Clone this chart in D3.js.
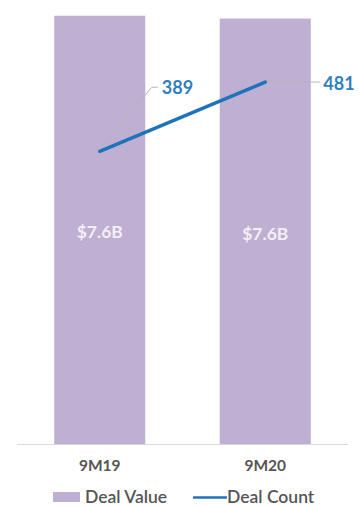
<!DOCTYPE html>
<html>
<head>
<meta charset="utf-8">
<script src="https://cdn.jsdelivr.net/npm/d3@7"></script>
<style>
  html, body { margin: 0; padding: 0; background: #fff; }
  svg { display: block; font-family: Lato, "Open Sans", sans-serif; }
</style>
</head>
<body>
<svg id="chart" width="359" height="506"></svg>
<script>
// Deal value (billions USD) and deal count per period
const categories = ["9M19", "9M20"];
const dealValue = [7.62, 7.57];
const dealCount = [389, 481];
const legendLabels = ["Deal Value", "Deal Count"];

const baseY = 444;
const barColor = "#bfafd2";
const lineColor = "#1f73b9";
const labelBlue = "#2f7fc1";
const textGrey = "#555555";

const svg = d3.select("#chart");

const x = d3.scaleBand()
  .domain(categories)
  .range([17, 348])
  .paddingInner(0.45)
  .paddingOuter(0.225);

const yVal = d3.scaleLinear().domain([0, 7.9]).range([baseY, 0]);
const yCnt = d3.scaleLinear().domain([0, 590]).range([baseY, 0]);

// bars
svg.append("g").selectAll("rect")
  .data(categories)
  .join("rect")
  .attr("x", d => x(d))
  .attr("width", x.bandwidth())
  .attr("y", (d, i) => yVal(dealValue[i]))
  .attr("height", (d, i) => baseY - yVal(dealValue[i]))
  .attr("fill", barColor);

// value labels inside bars
const fmt = d => "$" + d3.format(".1f")(d) + "B";
svg.append("g").selectAll("text")
  .data(categories)
  .join("text")
  .attr("x", d => x(d) + x.bandwidth() / 2)
  .attr("y", (d, i) => (yVal(dealValue[i]) + baseY) / 2 + 8.5)
  .attr("text-anchor", "middle")
  .attr("font-size", 17.5)
  .attr("font-weight", 700)
  .attr("fill", "#f3eff7")
  .text((d, i) => fmt(dealValue[i]));

// baseline axis
svg.append("line")
  .attr("x1", 17).attr("x2", 348)
  .attr("y1", baseY + 0.5).attr("y2", baseY + 0.5)
  .attr("stroke", "#d9d9d9").attr("stroke-width", 1);

const xAxis = d3.axisBottom(x).tickSize(0).tickPadding(0);
const gx = svg.append("g").attr("transform", `translate(0,${baseY})`).call(xAxis);
gx.select(".domain").remove();
gx.selectAll("text")
  .attr("y", 27)
  .attr("dy", 0)
  .attr("font-family", "Lato, sans-serif")
  .attr("font-size", 15.5)
  .attr("font-weight", 700)
  .attr("fill", textGrey);

// count line
const pts = categories.map((c, i) => [x(c) + x.bandwidth() / 2, yCnt(dealCount[i])]);
svg.append("path")
  .attr("d", d3.line()(pts))
  .attr("fill", "none")
  .attr("stroke", lineColor)
  .attr("stroke-width", 3.5)
  .attr("stroke-linecap", "round");

// leader lines and count labels
const p0 = pts[0], p1 = pts[1];
svg.append("path")
  .attr("d", d3.line()([[p0[0] + 1, p0[1] - 4], [p0[0] + 52, p0[1] - 64], [p0[0] + 58, p0[1] - 64]]))
  .attr("fill", "none").attr("stroke", "#b5b5b5").attr("stroke-width", 1);
svg.append("text")
  .attr("x", p0[0] + 62).attr("y", p0[1] - 57)
  .attr("font-size", 18).attr("font-weight", 700).attr("fill", labelBlue)
  .text(dealCount[0]);

svg.append("path")
  .attr("d", d3.line()([[p1[0] + 2, p1[1]], [p1[0] + 55, p1[1]]]))
  .attr("fill", "none").attr("stroke", "#b5b5b5").attr("stroke-width", 1);
svg.append("text")
  .attr("x", p1[0] + 58).attr("y", p1[1] + 8)
  .attr("font-size", 18).attr("font-weight", 700).attr("fill", labelBlue)
  .text(dealCount[1]);

// legend
const lg = svg.append("g");
lg.append("rect").attr("x", 53).attr("y", 492).attr("width", 27).attr("height", 10).attr("fill", barColor);
lg.append("text").attr("x", 85).attr("y", 502.5)
  .attr("font-size", 17.5).attr("font-weight", 600).attr("fill", textGrey).text(legendLabels[0]);
lg.append("line").attr("x1", 193).attr("x2", 227).attr("y1", 497.5).attr("y2", 497.5)
  .attr("stroke", lineColor).attr("stroke-width", 2.5);
lg.append("text").attr("x", 227).attr("y", 502.5)
  .attr("font-size", 17.5).attr("font-weight", 600).attr("fill", textGrey).text(legendLabels[1]);
</script>
</body>
</html>
